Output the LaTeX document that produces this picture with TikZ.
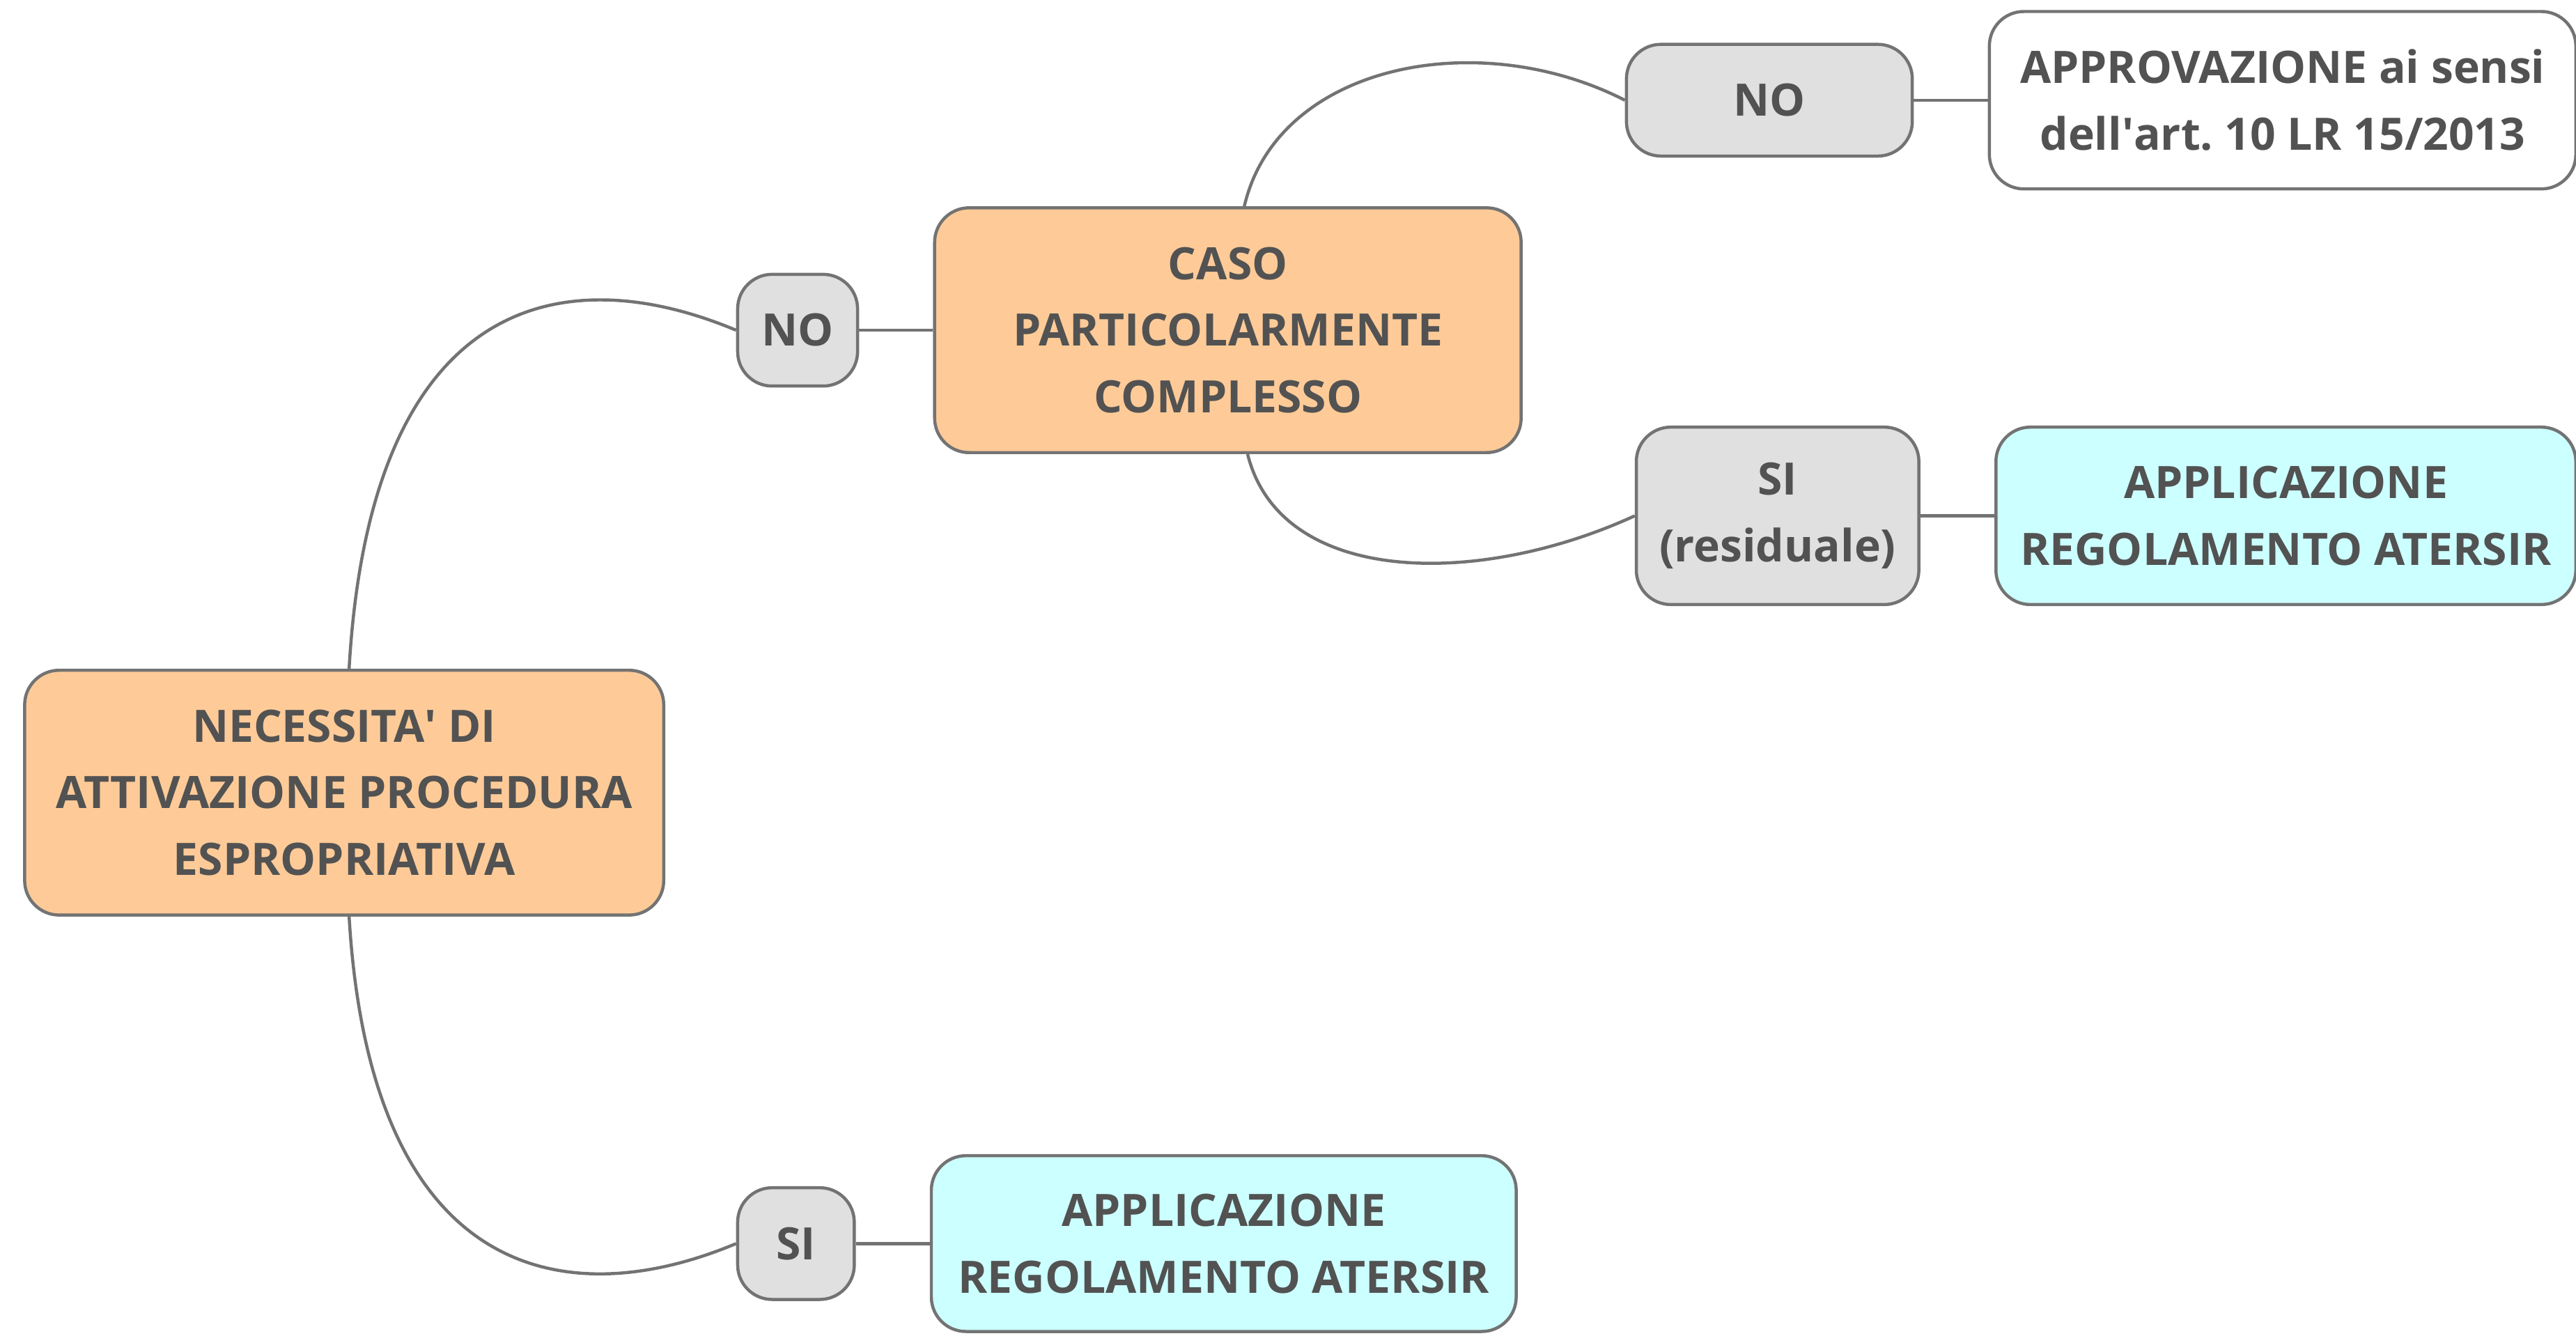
\documentclass[tikz,border=0pt]{standalone}
\usepackage{fontspec}
\setmainfont{Open Sans}
\usetikzlibrary{positioning}
\definecolor{txt}{HTML}{525252}
\definecolor{edge}{HTML}{737373}
\definecolor{peach}{HTML}{FECB98}
\definecolor{grey}{HTML}{E0E0E0}
\definecolor{aqua}{HTML}{CCFFFF}
\frenchspacing

\begin{document}
\begin{tikzpicture}[x=0.5pt,y=-0.5pt,node distance=22.5pt,
  box/.style={draw=edge, line width=0.95pt, rounded corners=10.5pt,
    align=center, text=txt, inner sep=0pt,
    font=\bfseries\fontsize{13.6}{20.3}\selectfont},
  link/.style={draw=edge, line width=0.95pt}]
\useasboundingbox (0,0) rectangle (1568,813);

\node[box, fill=peach, minimum width=194.5pt, minimum height=74.5pt] (root) at (209.5,482.5)
  {NECESSITA\textquotesingle{} DI\\ATTIVAZIONE PROCEDURA\\ESPROPRIATIVA};
\node[box, fill=grey, minimum width=36.5pt, minimum height=34pt] (no1) at (485.5,201) {NO};
\node[box, fill=peach, minimum width=178.5pt, minimum height=74.5pt, right=of no1] (caso)
  {CASO\\PARTICOLARMENTE\\COMPLESSO};
\node[box, fill=grey, minimum width=87pt, minimum height=34pt] (no2) at (1077,61) {NO};
\node[box, fill=white, minimum width=178.5pt, minimum height=54pt, right=of no2] (appr)
  {APPROVAZIONE ai sensi\\dell\textquotesingle art. 10 LR 15/2013};
\node[box, fill=grey, minimum width=86pt, minimum height=54pt] (sires) at (1082,314)
  {SI\\(residuale)};
\node[box, fill=aqua, minimum width=176.5pt, minimum height=54pt, right=of sires] (appl1)
  {APPLICAZIONE\\REGOLAMENTO ATERSIR};
\node[box, fill=grey, minimum width=35.5pt, minimum height=34pt] (si) at (484.5,757) {SI};
\node[box, fill=aqua, minimum width=178pt, minimum height=53.5pt, right=of si] (appl2)
  {APPLICAZIONE\\REGOLAMENTO ATERSIR};

% curved branches
\draw[link] ([xshift=1.5pt]root.north) .. controls +(13,-228) and +(-105,-44) .. (no1.west);
\draw[link] ([xshift=1.5pt]root.south) .. controls +(13,220) and +(-105,44) .. (si.west);
\draw[link] ([xshift=5pt]caso.north) .. controls +(20,-86) and +(-90,-46) .. (no2.west);
\draw[link] ([xshift=6pt]caso.south) .. controls +(20,80) and +(-96,44) .. (sires.west);

% straight links
\draw[link] (no1) -- (caso);
\draw[link] (no2) -- (appr);
\draw[link] (sires) -- (appl1);
\draw[link] (si) -- (appl2);
\end{tikzpicture}
\end{document}
